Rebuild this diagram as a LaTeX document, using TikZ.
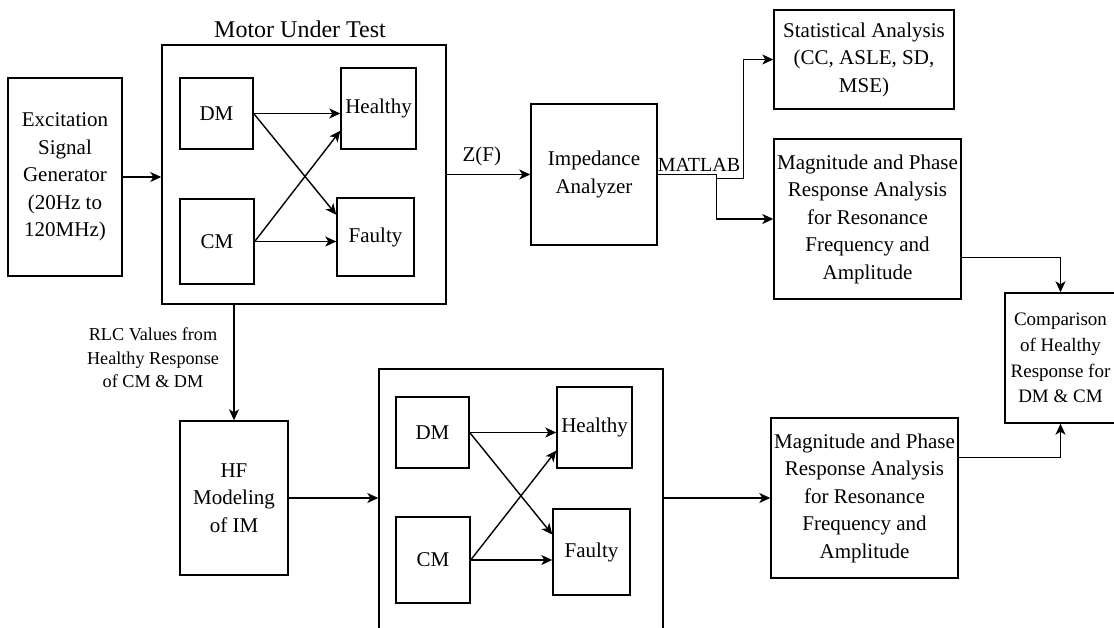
\documentclass[tikz,border=0pt]{standalone}
\usepackage{fontspec}
\setmainfont{Liberation Serif}
\usetikzlibrary{arrows.meta,calc}

\begin{document}
\begin{tikzpicture}[x=1pt,y=-1pt,
  box/.style={draw, line width=1.4pt, inner sep=0pt, align=center,
    font=\fontsize{21}{27.5}\selectfont},
  cbox/.style={box, font=\fontsize{19}{25.7}\selectfont},
  link/.style={line width=1.4pt, -{Stealth[length=11pt,width=10pt,inset=3pt]}},
  wire/.style={line width=1.4pt},
  lbl/.style={inner sep=0pt, align=center, font=\fontsize{21}{27.5}\selectfont}
]
\useasboundingbox (0,0) rectangle (1114,627);

% --- upper chain: measurement ---
\node[box, minimum width=114, minimum height=198] (exc) at (65,177)
  {Excitation\\Signal\\Generator\\(20Hz to\\120MHz)};

\node[box, minimum width=284, minimum height=259] (mut) at (304,174.5) {};
\node[lbl, font=\fontsize{24}{27}\selectfont] (muttitle) at (300,29) {Motor Under Test};

\node[box, minimum width=73, minimum height=71] (dm1) at (216.5,113.5) {DM};
\node[box, minimum width=74, minimum height=85] (cm1) at (217,241.5) {CM};
\node[box, minimum width=75, minimum height=81] (h1) at (378.5,108.5) {Healthy};
\node[box, minimum width=77, minimum height=78] (f1) at (375.5,237) {Faulty};

\node[box, minimum width=126, minimum height=141] (imp) at (594,174.5) {Impedance\\Analyzer};
\node[box, minimum width=180, minimum height=99] (stat) at (864,59.5)
  {Statistical Analysis\\(CC, ASLE, SD,\\MSE)};
\node[box, minimum width=187, minimum height=160] (mag1) at (867.5,219)
  {Magnitude and Phase\\Response Analysis\\for Resonance\\Frequency and\\Amplitude};

\node[cbox, minimum width=111, minimum height=130] (cmp) at (1060.5,358)
  {Comparison\\of Healthy\\Response for\\DM \& CM};

% --- lower chain: model ---
\node[box, minimum width=108, minimum height=154] (hf) at (234,498) {HF\\Modeling\\of IM};
\node[box, minimum width=284, minimum height=300] (mut2) at (521,519) {};
\node[box, minimum width=73, minimum height=71] (dm2) at (432.5,432.5) {DM};
\node[box, minimum width=74, minimum height=86] (cm2) at (433,560) {CM};
\node[box, minimum width=75, minimum height=81] (h2) at (594.5,427.5) {Healthy};
\node[box, minimum width=77, minimum height=86] (f2) at (591.5,552) {Faulty};
\node[box, minimum width=187, minimum height=160] (mag2) at (864.5,498)
  {Magnitude and Phase\\Response Analysis\\for Resonance\\Frequency and\\Amplitude};

% --- connectors, upper ---
\draw[link] (exc.east) -- (exc.east -| mut.west);
\draw[link] (dm1.east) -- (dm1.east -| h1.west);
\draw[link] (dm1.east) -- ($(f1.north west)!0.22!(f1.south west)$);
\draw[link] (cm1.east) -- ($(h1.north west)!0.77!(h1.south west)$);
\draw[link] (cm1.east) -- (cm1.east -| f1.west);

\draw[link] (mut.east) -- (imp.west)
  node[lbl, pos=0.42, above=8pt] (zf) {Z(F)};

\coordinate (split) at ($(imp.east)+(59,0)$);
\draw[wire] (imp.east) -- (split);
\node[lbl, anchor=base west, font=\fontsize{20}{24}\selectfont] (matlab)
  at ($(imp.east)+(0,-3)$) {MATLAB};
\draw[link] (split) -- ++(0,4) -- ++(27,0) |- (stat.west);
\draw[link] (split) |- (mag1.west);

\draw[link] ($(mag1.north east)!0.74!(mag1.south east)$) -| (cmp.north);

% --- connectors, lower ---
\coordinate (rlcout) at (mut.south -| hf.north);
\draw[link] (rlcout) -- (hf.north);
\node[lbl, font=\fontsize{18.2}{23.5}\selectfont] (rlc) at (153,358)
  {RLC Values from\\Healthy Response\\of CM \& DM};

\draw[link] (hf.east) -- (hf.east -| mut2.west);
\draw[link] (dm2.east) -- (dm2.east -| h2.west);
\draw[link] (dm2.east) -- ($(f2.north west)!0.30!(f2.south west)$);
\draw[link] (cm2.east) -- ($(h2.north west)!0.78!(h2.south west)$);
\draw[link] (cm2.east) -- (cm2.east -| f2.west);

\draw[link] (mag2.west -| mut2.east) -- (mag2.west);
\draw[link] ($(mag2.north east)!0.25!(mag2.south east)$) -| (cmp.south);
\end{tikzpicture}
\end{document}
